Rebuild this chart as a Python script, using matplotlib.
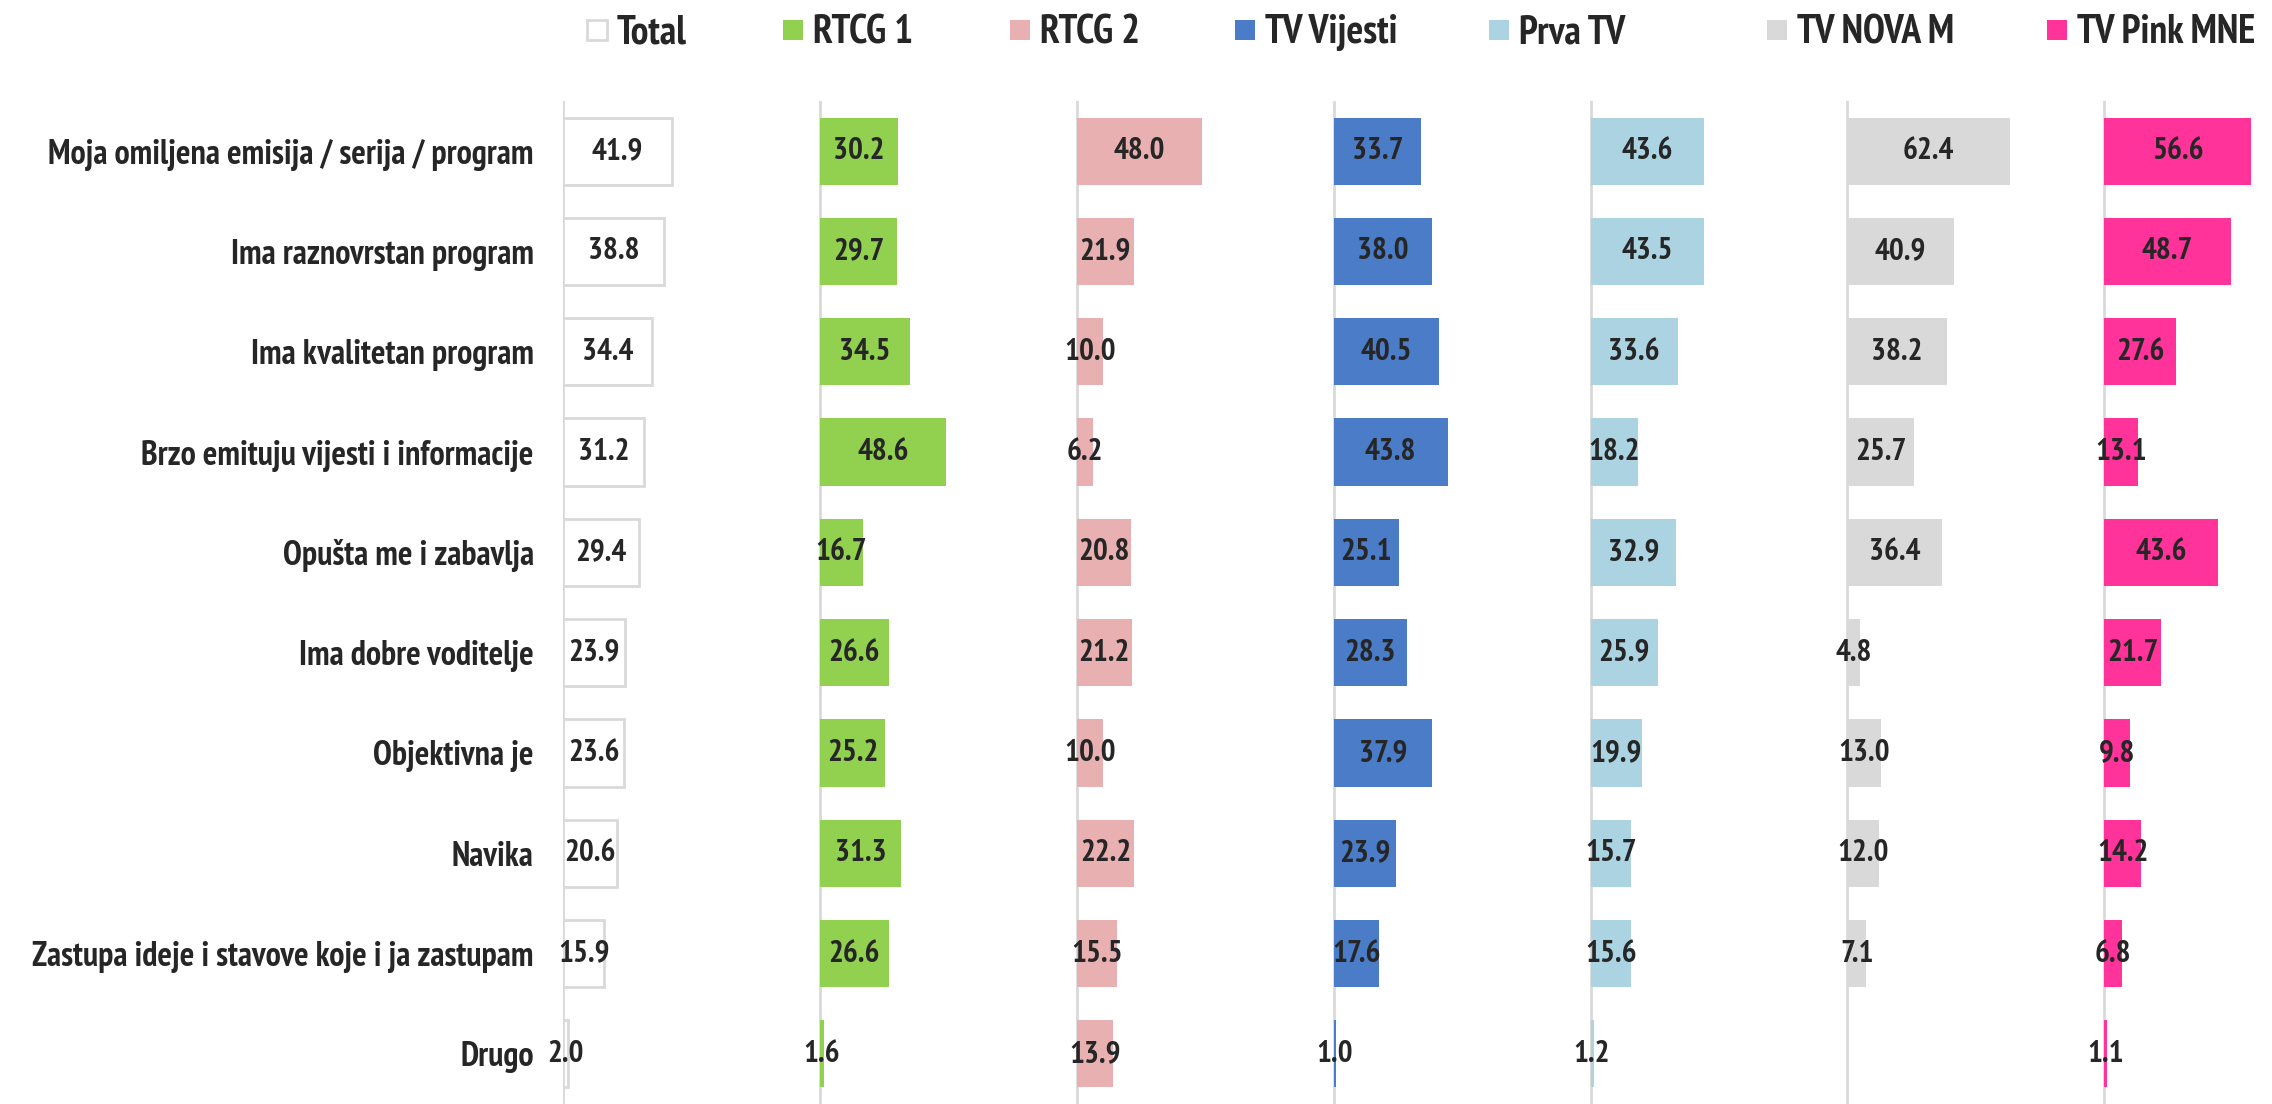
import numpy as np
import matplotlib
matplotlib.use("Agg")
import matplotlib.pyplot as plt
from matplotlib.patches import Rectangle

plt.rcParams['font.family'] = ['PT Sans Narrow', 'DejaVu Sans']
plt.rcParams['font.stretch'] = 'condensed'
plt.rcParams['font.weight'] = 'bold'


categories = [
    "Moja omiljena emisija / serija / program",
    "Ima raznovrstan program",
    "Ima kvalitetan program",
    "Brzo emituju vijesti i informacije",
    "Opušta me i zabavlja",
    "Ima dobre voditelje",
    "Objektivna je",
    "Navika",
    "Zastupa ideje i stavove koje i ja zastupam",
    "Drugo",
]

series_names = ["Total", "RTCG 1", "RTCG 2", "TV Vijesti", "Prva TV", "TV NOVA M", "TV Pink MNE"]
series_colors = ["white", "#92d050", "#e9b0b2", "#4a7cc8", "#acd3e2", "#d9d9d9", "#ff3399"]

total = [41.9, 38.8, 34.4, 31.2, 29.4, 23.9, 23.6, 20.6, 15.9, 2.0]
rtcg1 = [30.2, 29.7, 34.5, 48.6, 16.7, 26.6, 25.2, 31.3, 26.6, 1.6]
rtcg2 = [48.0, 21.9, 10.0, 6.2, 20.8, 21.2, 10.0, 22.2, 15.5, 13.9]
vijesti = [33.7, 38.0, 40.5, 43.8, 25.1, 28.3, 37.9, 23.9, 17.6, 1.0]
prva = [43.6, 43.5, 33.6, 18.2, 32.9, 25.9, 19.9, 15.7, 15.6, 1.2]
nova = [62.4, 40.9, 38.2, 25.7, 36.4, 4.8, 13.0, 12.0, 7.1, np.nan]
pink = [56.6, 48.7, 27.6, 13.1, 43.6, 21.7, 9.8, 14.2, 6.8, 1.1]

all_series = [total, rtcg1, rtcg2, vijesti, prva, nova, pink]


# each station gets its own column of bars on one shared axis
panel_step = 98.8
px_per_unit = 2.6
W, H = 2272, 1104
ax_left_px = 563
ax_top_px = 101
text_color = "#262626"

fig = plt.figure(figsize=(W / 100, H / 100), dpi=100)
ax = fig.add_axes([ax_left_px / W, 0, 1 - ax_left_px / W, 1 - ax_top_px / H])

y = np.arange(len(categories))

for i, vals in enumerate(all_series):
    offset = i * panel_step
    vals = np.array(vals, dtype=float)
    ax.axvline(offset, color="#d9d9d9", lw=2, zorder=0)
    if i == 0:
        ax.barh(y, vals, left=offset, height=0.67, color="white",
                edgecolor="#d9d9d9", linewidth=2, zorder=2)
    else:
        ax.barh(y, vals, left=offset, height=0.67, color=series_colors[i],
                linewidth=0, zorder=2)
    for yy, v in zip(y, vals):
        if np.isnan(v):
            continue
        ax.text(offset + v / 2, yy, f"{v:.1f}", ha="center", va="center",
                fontsize=22.5, color=text_color, zorder=3)

ax.set_xlim(0, (W - ax_left_px) / px_per_unit)
ax.set_ylim(len(categories) - 0.5, -0.5)
ax.set_yticks(y)
ax.set_yticklabels(categories, fontsize=24.5, color=text_color)
ax.tick_params(axis="y", length=0, pad=21)
ax.set_xticks([])
for s in ax.spines.values():
    s.set_visible(False)

# legend row along the top, laid out like the Excel original
legend_text_x = [617, 813, 1040, 1265, 1519, 1797, 2077]
legend_base = 43
box = 20
for i, name in enumerate(series_names):
    tx = legend_text_x[i]
    if i == 0:
        rect = Rectangle(((tx - 30) / W, 1 - 40 / H), box / W, box / H,
                         transform=fig.transFigure, facecolor="white", edgecolor="#d9d9d9", lw=2)
    else:
        rect = Rectangle(((tx - 30) / W, 1 - 40 / H), box / W, box / H,
                         transform=fig.transFigure, facecolor=series_colors[i], lw=0)
    fig.add_artist(rect)
    fig.text(tx / W, 1 - legend_base / H, name, ha="left", va="baseline",
             fontsize=28.5, color=text_color)

fig.savefig("out.png", dpi=100)
